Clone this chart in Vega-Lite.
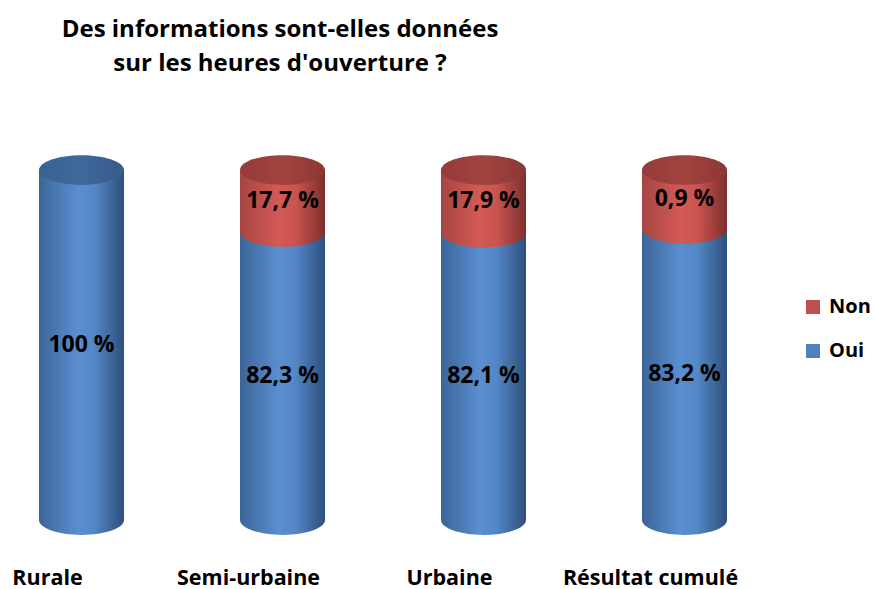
{
  "$schema": "https://vega.github.io/schema/vega-lite/v6.json",
  "autosize": "none",
  "width": 688,
  "height": 350,
  "padding": {"left": 39, "top": 170, "right": 148, "bottom": 69},
  "background": "white",
  "config": {"view": {"stroke": null}, "font": "Open Sans"},
  "title": {
    "text": ["Des informations sont-elles données", "sur les heures d'ouverture ?"],
    "font": "Open Sans", "fontSize": 24, "fontWeight": "bold", "color": "black",
    "anchor": "middle", "frame": "group", "dx": -103, "offset": 79, "lineHeight": 34
  },
  "data": {"values": [
    {"categorie": "Rurale", "reponse": "Oui", "valeur": 100, "label": "100 %"},
    {"categorie": "Semi-urbaine", "reponse": "Oui", "valeur": 82.3, "label": "82,3 %"},
    {"categorie": "Semi-urbaine", "reponse": "Non", "valeur": 17.7, "label": "17,7 %"},
    {"categorie": "Urbaine", "reponse": "Oui", "valeur": 82.1, "label": "82,1 %"},
    {"categorie": "Urbaine", "reponse": "Non", "valeur": 17.9, "label": "17,9 %"},
    {"categorie": "Résultat cumulé", "reponse": "Oui", "valeur": 83.2, "label": "83,2 %"},
    {"categorie": "Résultat cumulé", "reponse": "Non", "valeur": 16.8, "label": "0,9 %"}
  ]},
  "transform": [
    {"stack": "valeur", "groupby": ["categorie"], "sort": [{"field": "reponse", "order": "descending"}], "as": ["y0", "y1"]},
    {"calculate": "(datum.y0 + datum.y1) / 2", "as": "ymid"}
  ],
  "encoding": {
    "x": {"field": "categorie", "type": "nominal", "sort": ["Rurale", "Semi-urbaine", "Urbaine", "Résultat cumulé"],
      "scale": {"paddingInner": 0.577, "paddingOuter": 0},
      "axis": {"title": null, "domain": false, "ticks": false, "labelAngle": 0, "labelFont": "Open Sans", "labelFontSize": 21.5, "labelFontWeight": "bold", "labelColor": "black", "labelPadding": 47, "labelOffset": -34, "labelBaseline": "top"}},
    "y": {"field": "y1", "type": "quantitative", "scale": {"domain": [0, 100], "nice": false}, "axis": null}
  },
  "layer": [
    {
      "mark": {"type": "bar"},
      "encoding": {
        "y2": {"field": "y0"},
        "color": {"field": "reponse", "type": "nominal",
          "scale": {"domain": ["Non", "Oui"], "range": ["#C0504D", "#4F81BD"]},
          "legend": {"title": null, "orient": "none", "legendX": 764, "legendY": 127, "padding": 0, "symbolType": "square", "symbolSize": 196, "symbolStrokeWidth": 0, "labelFont": "Open Sans", "labelFontSize": 20, "labelFontWeight": "bold", "labelColor": "black", "labelOffset": 6, "rowPadding": 24}}
      }
    },
    {
      "transform": [{"filter": "datum.reponse == 'Oui'"}],
      "mark": {"type": "point", "filled": true, "size": 7225, "opacity": 1, "strokeWidth": 0,
        "shape": "M-1,0A1,0.35,0,1,0,1,0A1,0.35,0,1,0,-1,0Z",
        "fill": {"gradient": "linear", "x1": 0, "x2": 1, "y1": 0, "y2": 0, "stops": [
          {"offset": 0, "color": "#3B6598"}, {"offset": 0.45, "color": "#5A8ECF"}, {"offset": 0.65, "color": "#5387C6"}, {"offset": 1, "color": "#2E4F7C"}]}},
      "encoding": {"y": {"field": "y0", "type": "quantitative"}}
    },
    {
      "transform": [{"filter": "datum.reponse == 'Oui'"}],
      "mark": {"type": "bar",
        "fill": {"gradient": "linear", "x1": 0, "x2": 1, "y1": 0, "y2": 0, "stops": [
          {"offset": 0, "color": "#3B6598"}, {"offset": 0.45, "color": "#5A8ECF"}, {"offset": 0.65, "color": "#5387C6"}, {"offset": 1, "color": "#2E4F7C"}]}},
      "encoding": {"y2": {"field": "y0"}}
    },
    {
      "transform": [{"filter": "datum.reponse == 'Non'"}],
      "mark": {"type": "point", "filled": true, "size": 7225, "opacity": 1, "strokeWidth": 0,
        "shape": "M-1,0A1,0.35,0,1,0,1,0A1,0.35,0,1,0,-1,0Z",
        "fill": {"gradient": "linear", "x1": 0, "x2": 1, "y1": 0, "y2": 0, "stops": [
          {"offset": 0, "color": "#A64542"}, {"offset": 0.45, "color": "#D35A55"}, {"offset": 0.65, "color": "#CB5450"}, {"offset": 1, "color": "#7D2F2D"}]}},
      "encoding": {"y": {"field": "y0", "type": "quantitative"}}
    },
    {
      "transform": [{"filter": "datum.reponse == 'Non'"}],
      "mark": {"type": "bar",
        "fill": {"gradient": "linear", "x1": 0, "x2": 1, "y1": 0, "y2": 0, "stops": [
          {"offset": 0, "color": "#A64542"}, {"offset": 0.45, "color": "#D35A55"}, {"offset": 0.65, "color": "#CB5450"}, {"offset": 1, "color": "#7D2F2D"}]}},
      "encoding": {"y2": {"field": "y0"}}
    },
    {
      "transform": [{"filter": "datum.reponse == 'Oui' && datum.y1 >= 100"}],
      "mark": {"type": "point", "filled": true, "size": 7225, "opacity": 1, "strokeWidth": 0,
        "shape": "M-1,0A1,0.35,0,1,0,1,0A1,0.35,0,1,0,-1,0Z",
        "fill": {"gradient": "linear", "x1": 0, "x2": 1, "y1": 0, "y2": 0, "stops": [
          {"offset": 0, "color": "#3A6291"}, {"offset": 0.5, "color": "#40689A"}, {"offset": 1, "color": "#345B8A"}]}},
      "encoding": {"y": {"field": "y1", "type": "quantitative"}}
    },
    {
      "transform": [{"filter": "datum.reponse == 'Non' && datum.y1 >= 100"}],
      "mark": {"type": "point", "filled": true, "size": 7225, "opacity": 1, "strokeWidth": 0,
        "shape": "M-1,0A1,0.35,0,1,0,1,0A1,0.35,0,1,0,-1,0Z",
        "fill": {"gradient": "linear", "x1": 0, "x2": 1, "y1": 0, "y2": 0, "stops": [
          {"offset": 0, "color": "#943B39"}, {"offset": 0.5, "color": "#A3433F"}, {"offset": 1, "color": "#8C3735"}]}},
      "encoding": {"y": {"field": "y1", "type": "quantitative"}}
    },
    {
      "mark": {"type": "text", "font": "Open Sans", "fontSize": 23, "fontWeight": "bold", "color": "black", "baseline": "middle", "align": "center"},
      "encoding": {
        "y": {"field": "ymid", "type": "quantitative"},
        "text": {"field": "label"}
      }
    }
  ]
}
